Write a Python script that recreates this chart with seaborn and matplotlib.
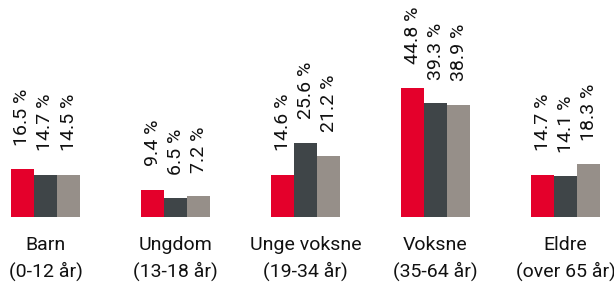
import pandas as pd
import matplotlib.pyplot as plt
import seaborn as sns

groups = ["Barn\n(0-12 år)", "Ungdom\n(13-18 år)", "Unge voksne\n(19-34 år)",
          "Voksne\n(35-64 år)", "Eldre\n(over 65 år)"]
series = ["A", "B", "C"]
values_a = [16.5, 9.4, 14.6, 44.8, 14.7]
values_b = [14.7, 6.5, 25.6, 39.3, 14.1]
values_c = [14.5, 7.2, 21.2, 38.9, 18.3]

COLORS = ["#E4002B", "#3F4548", "#968F89"]

df = pd.DataFrame({
    "group": groups * 3,
    "series": [s for s in series for _ in groups],
    "value": values_a + values_b + values_c,
})

sns.set_theme(style="white")
plt.rcParams['font.family'] = ['Roboto', 'DejaVu Sans']

fig = plt.figure(figsize=(6.14, 2.83), dpi=100)
ax = fig.add_axes([0, 66 / 283, 1, 217 / 283])

sns.barplot(data=df, x="group", y="value", hue="series", order=groups,
            hue_order=series, palette=COLORS, width=69 / 130, gap=0,
            saturation=1, edgecolor="none", legend=False, ax=ax)

for cont in ax.containers:
    labels = [f"{v:.1f} %" for v in cont.datavalues]
    for bar, lab in zip(cont, labels):
        ax.annotate(lab, (bar.get_x() + bar.get_width() / 2, bar.get_height()),
                    xytext=(0, 17), textcoords="offset points",
                    rotation=90, ha="center", va="bottom",
                    fontsize=14, color="#111111")

ax.set_xlim(-45.5 / 130, (614 - 45.5) / 130)
ax.set_ylim(0, 217 / 2.89)
ax.set_xlabel("")
ax.set_ylabel("")
ax.set_yticks([])
ax.tick_params(axis="x", length=0, pad=14, labelsize=14, colors="#111111")
for lab in ax.get_xticklabels():
    lab.set_linespacing(1.45)
for s in ax.spines.values():
    s.set_visible(False)

fig.savefig("out.png", dpi=100)
